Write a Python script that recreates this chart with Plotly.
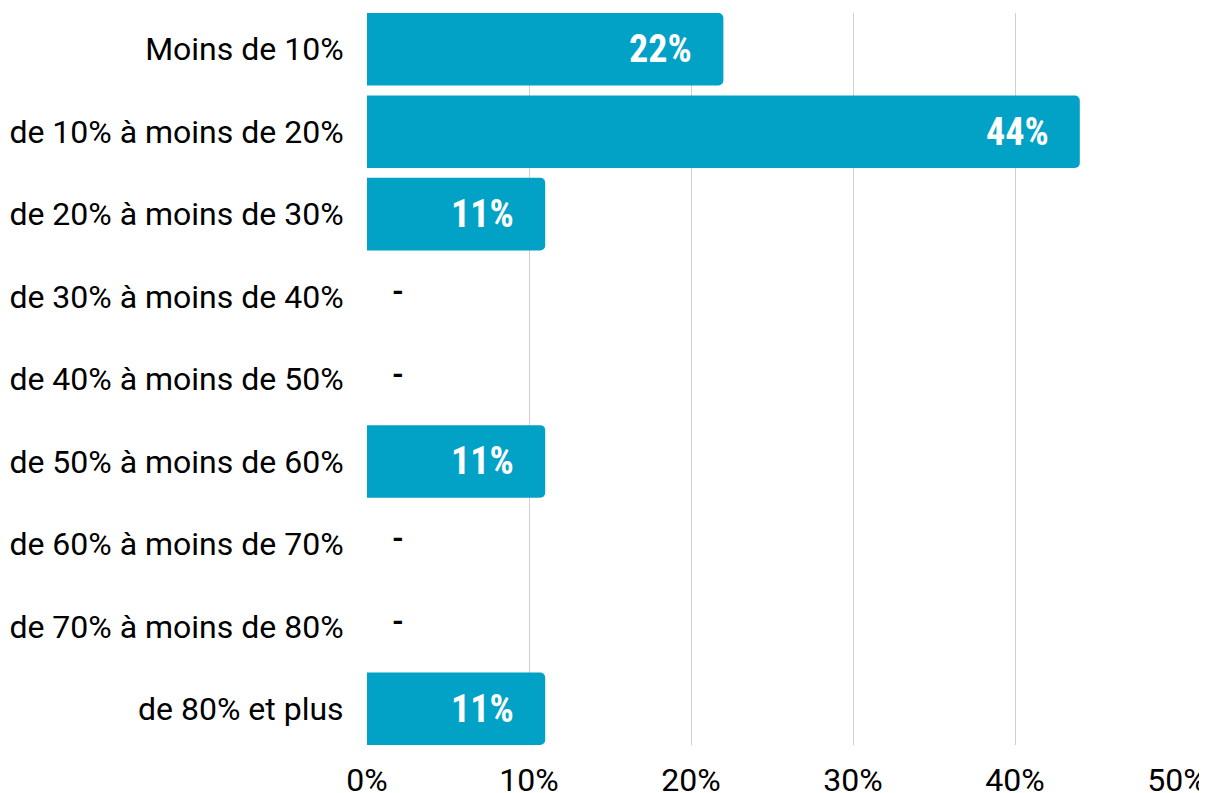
import plotly.graph_objects as go

categories = [
    "Moins de 10%",
    "de 10% à moins de 20%",
    "de 20% à moins de 30%",
    "de 30% à moins de 40%",
    "de 40% à moins de 50%",
    "de 50% à moins de 60%",
    "de 60% à moins de 70%",
    "de 70% à moins de 80%",
    "de 80% et plus",
]
values = [22, 44, 11, 0, 0, 11, 0, 0, 11]
tick_vals = [0, 10, 20, 30, 40, 50]
tick_text = ["0%", "10%", "20%", "30%", "40%", "50%"]

BAR_COLOR = "#02A2C7"
LABEL_FONT = "Roboto Condensed, Roboto, sans-serif"
BARGAP = 0.12

fig = go.Figure()
fig.add_trace(go.Bar(
    x=values,
    y=categories,
    orientation="h",
    marker=dict(color=BAR_COLOR, line=dict(width=0), cornerradius=5),
    hoverinfo="skip",
))

annotations = []
for cat, v in zip(categories, values):
    if v > 0:
        annotations.append(dict(
            x=v, y=cat, xref="x", yref="y",
            text=f"<b>{v}%</b>", showarrow=False,
            xanchor="right", yanchor="middle", xshift=-29, yshift=0,
            font=dict(family=LABEL_FONT, size=38, color="white"),
        ))
    else:
        annotations.append(dict(
            x=0, y=cat, xref="x", yref="y",
            text="<b>-</b>", showarrow=False,
            xanchor="center", yanchor="middle", xshift=31, yshift=6,
            font=dict(family="Roboto", size=30, color="black"),
        ))

half = (1 - BARGAP) / 2
n = len(categories)

# page body has an 8px default margin: compensate so the plot area lands at
# x 367..1177, y 13..745 in the screenshot
fig.update_layout(
    width=1207, height=793,
    margin=dict(l=359, r=38, t=5, b=56, pad=0),
    paper_bgcolor="white", plot_bgcolor="white",
    showlegend=False,
    bargap=BARGAP,
    font=dict(family="Roboto", size=32, color="black"),
    annotations=annotations,
    xaxis=dict(
        range=[0, 50], tickvals=tick_vals, ticktext=tick_text,
        showgrid=True, gridcolor="#d0d0d0", gridwidth=1,
        zeroline=False, showline=False, automargin=False,
        ticks="outside", ticklen=7, tickcolor="rgba(0,0,0,0)",
        tickfont=dict(family="Roboto", size=32, color="black"),
        fixedrange=True,
    ),
    yaxis=dict(
        range=[n - 1 + half, -half],
        showgrid=False, zeroline=False, showline=False,
        automargin=False,
        ticks="outside", ticklen=16, tickcolor="rgba(0,0,0,0)",
        tickfont=dict(family="Roboto", size=32, color="black"),
        fixedrange=True,
    ),
)

fig.write_html("out.html")
